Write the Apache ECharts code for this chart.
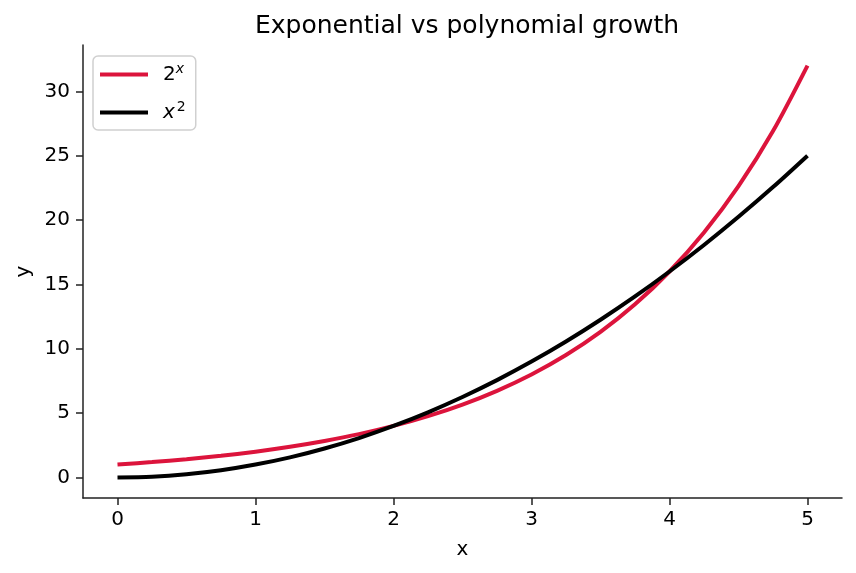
<!DOCTYPE html>
<html>
<head>
<meta charset="utf-8">
<script src="https://cdn.jsdelivr.net/npm/echarts@6/dist/echarts.min.js"></script>
<style>html,body{margin:0;padding:0;background:#fff}#c{width:856px;height:573px}</style>
</head>
<body>
<div id="c"></div>
<script>
// Values
const xValues = [0, 0.25, 0.5, 0.75, 1, 1.25, 1.5, 1.75, 2, 2.25, 2.5, 2.75, 3, 3.25, 3.5, 3.75, 4, 4.25, 4.5, 4.75, 5];
const expValues = [1, 1.19, 1.41, 1.68, 2, 2.38, 2.83, 3.36, 4, 4.76, 5.66, 6.73, 8, 9.51, 11.31, 13.45, 16, 19.03, 22.63, 26.91, 32];
const sqValues = [0, 0.06, 0.25, 0.56, 1, 1.56, 2.25, 3.06, 4, 5.06, 6.25, 7.56, 9, 10.56, 12.25, 14.06, 16, 18.06, 20.25, 22.56, 25];
const xTicks = [0, 1, 2, 3, 4, 5];
const yTicks = [0, 5, 10, 15, 20, 25, 30];
const titleText = 'Exponential vs polynomial growth';

const chart = echarts.init(document.getElementById('c'), null, {renderer: 'canvas'});
const font = 'DejaVu Sans';
const axisCommon = {
  axisLine: {show: true, onZero: false, lineStyle: {color: '#222', width: 1.5}},
  axisTick: {show: true, inside: false, length: 7, lineStyle: {color: '#222', width: 1.5}},
  splitLine: {show: false},
  nameTextStyle: {fontFamily: font, fontSize: 20, color: '#000'}
};
chart.setOption({
  animation: false,
  backgroundColor: '#fff',
  title: {text: titleText, left: 462, textAlign: 'center', top: 9,
    textStyle: {fontFamily: font, fontSize: 25, fontWeight: 'normal', color: '#000'}},
  grid: {left: 83, right: 14, top: 45, bottom: 75, containLabel: false},
  legend: {
    left: 93, top: 56, orient: 'vertical',
    backgroundColor: '#fff', borderColor: '#d0d0d0', borderWidth: 1.5, borderRadius: 5,
    padding: [6, 10, 5, 7], itemGap: 13,
    icon: 'rect', itemWidth: 48, itemHeight: 4,
    data: ['2x', 'x2'],
    formatter: function (n) { return n === '2x' ? '2{sup|x}' : '{it|x}{sup2|2}'; },
    textStyle: {fontFamily: font, fontSize: 20, color: '#000', padding: [0, 0, 0, 10], lineHeight: 25,
      rich: {
        sup: {fontFamily: font, fontSize: 14, fontStyle: 'italic', verticalAlign: 'top', padding: [0, 0, 10, 0], color: '#000'},
        it: {fontFamily: font, fontSize: 20, fontStyle: 'italic', color: '#000'},
        sup2: {fontFamily: font, fontSize: 14, padding: [0, 0, 10, 2], color: '#000'}
      }}
  },
  xAxis: Object.assign({}, axisCommon, {
    type: 'value', min: -0.25, max: 5.25, name: 'x', nameLocation: 'middle', nameGap: 42,
    axisTick: Object.assign({}, axisCommon.axisTick, {customValues: xTicks}),
    axisLabel: {customValues: xTicks, fontFamily: font, fontSize: 20, color: '#000', margin: 12}
  }),
  yAxis: Object.assign({}, axisCommon, {
    type: 'value', min: -1.6, max: 33.6, name: 'y', nameLocation: 'middle', nameGap: 49, nameRotate: 90,
    axisTick: Object.assign({}, axisCommon.axisTick, {customValues: yTicks}),
    axisLabel: {customValues: yTicks, fontFamily: font, fontSize: 20, color: '#000', margin: 13}
  }),
  series: [
    {name: '2x', type: 'line', data: xValues.map((x, i) => [x, expValues[i]]),
     smooth: 0.3, showSymbol: false, symbol: 'none',
     lineStyle: {color: '#DC143C', width: 4}, itemStyle: {color: '#DC143C'}, z: 2},
    {name: 'x2', type: 'line', data: xValues.map((x, i) => [x, sqValues[i]]),
     smooth: 0.3, showSymbol: false, symbol: 'none',
     lineStyle: {color: '#000', width: 4}, itemStyle: {color: '#000'}, z: 3}
  ]
});
</script>
</body>
</html>
